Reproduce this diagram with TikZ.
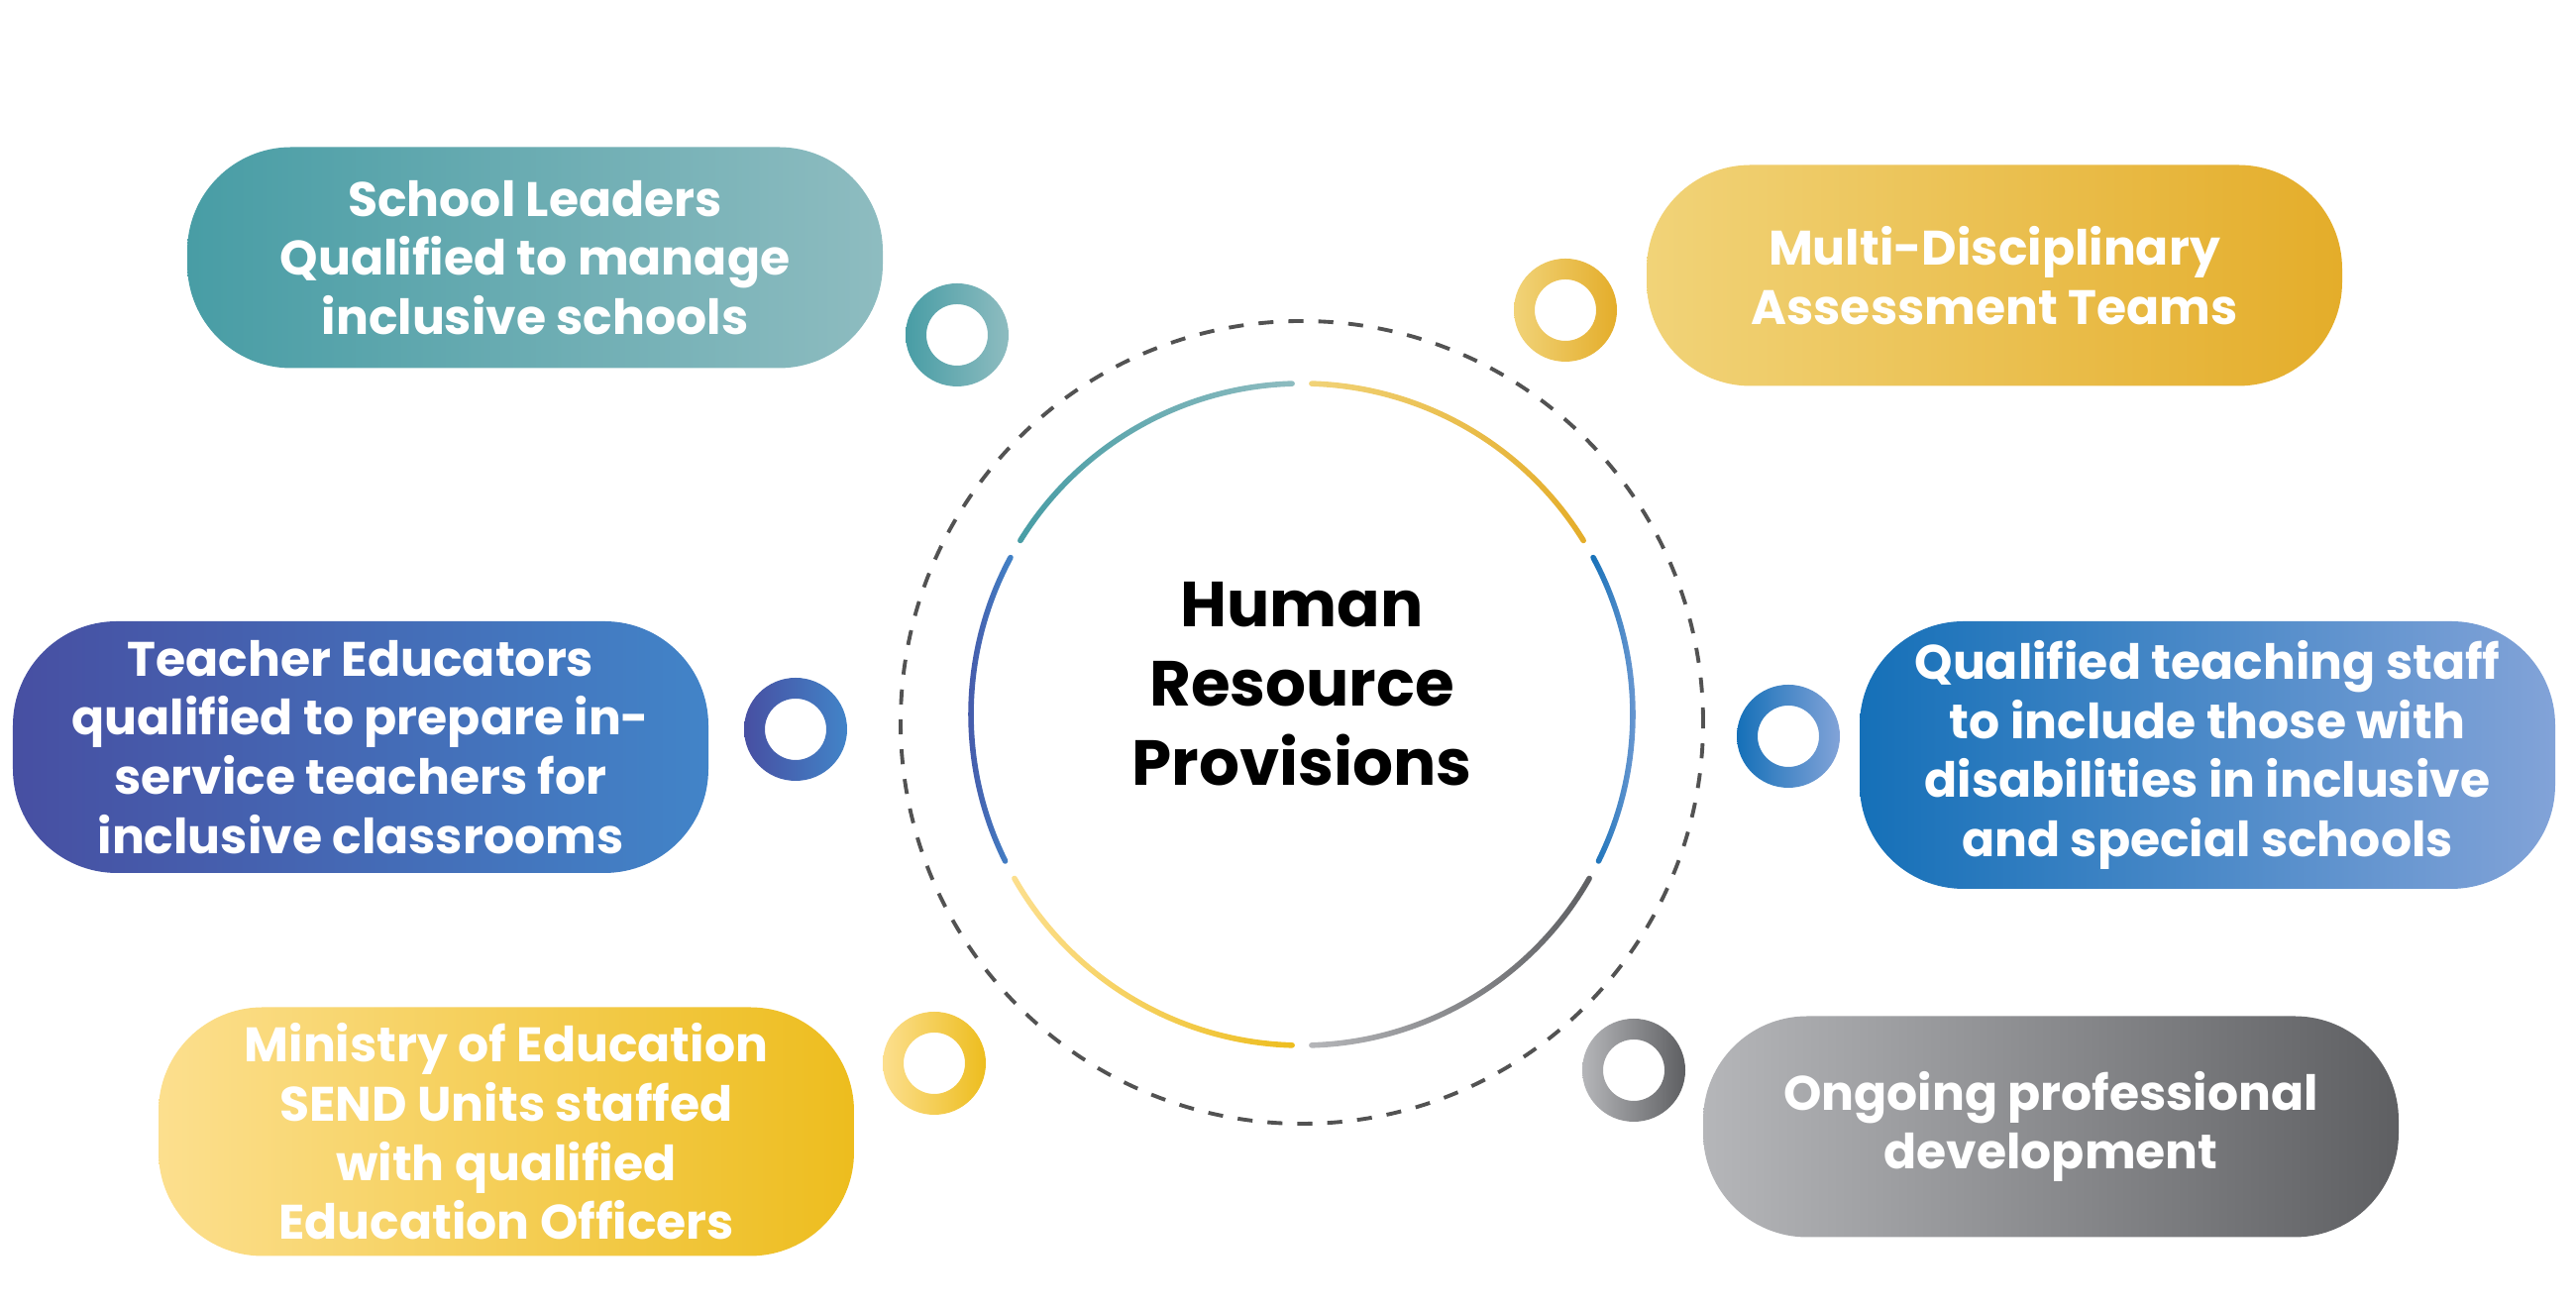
\documentclass[tikz,border=0pt]{standalone}
\usepackage{fontspec}
\setmainfont{Poppins}
\definecolor{tealL}{HTML}{489DA5}
\definecolor{tealR}{HTML}{8EBCC0}
\definecolor{goldL}{HTML}{F1D378}
\definecolor{goldR}{HTML}{E4AD2A}
\definecolor{indigoL}{HTML}{474FA2}
\definecolor{indigoR}{HTML}{4284C8}
\definecolor{blueL}{HTML}{1570B8}
\definecolor{blueR}{HTML}{82A3D8}
\definecolor{sunL}{HTML}{FCDF8E}
\definecolor{sunR}{HTML}{EDBD1E}
\definecolor{greyL}{HTML}{B5B6B9}
\definecolor{greyR}{HTML}{5E5F62}
\tikzset{
    pill/.style={rectangle, rounded corners=1.05cm, minimum width=7.02cm,
        inner sep=0pt, align=center, text=white,
        font=\bfseries\fontsize{13.9}{17}\selectfont},
    dashring/.style={draw=black!68, line width=1.1pt, dash pattern=on 4.3pt off 4.3pt},
}
% ring at a coordinate, shaded left to right
\newcommand{\ringat}[3]{\shade[even odd rule, left color=#2, right color=#3] (#1) circle (0.52) (#1) circle (0.31);}
% one coloured piece of the hub circle, round ends
\newcommand{\hubarc}[4]{\shade[left color=#3, right color=#4]
    ([shift={(hubc)}]#1:3.368) arc[start angle=#1, end angle=#2, radius=3.368]
    arc[start angle=#2, end angle=#2+180, radius=0.028]
    arc[start angle=#2, end angle=#1, radius=3.312]
    arc[start angle=#1+180, end angle=#1+360, radius=0.028] -- cycle;}

\begin{document}
\begin{tikzpicture}
\useasboundingbox (0,0) rectangle (26,13.23);

\coordinate (hubc) at (13.14,6.02);
\coordinate (dashc) at (13.14,5.94);

% hub
\draw[dashring] (dashc) circle (4.05);
\hubarc{31.7}{88.3}{goldL}{goldR}
\hubarc{91.7}{148.3}{tealL}{tealR}
\hubarc{151.7}{206.3}{indigoL}{indigoR}
\hubarc{209.7}{268.3}{sunL}{sunR}
\hubarc{271.7}{330.3}{greyL}{greyR}
\hubarc{-26.3}{28.3}{blueL}{blueR}
\node[align=center, font=\bfseries\fontsize{18.3}{22.7}\selectfont] (hub) at (13.14,6.33) {Human\\Resource\\Provisions};

% left side
\node[pill, minimum height=2.23cm, left color=tealL, right color=tealR] (leaders) at (5.40,10.63) {School Leaders\\Qualified to manage\\inclusive schools};
\node[pill, minimum height=2.54cm, left color=indigoL, right color=indigoR] (educators) at (3.64,5.69) {Teacher Educators\\qualified to prepare in-\\service teachers for\\inclusive classrooms};
\node[pill, minimum height=2.51cm, left color=sunL, right color=sunR] (ministry) at (5.11,1.81) {Ministry of Education\\SEND Units staffed\\with qualified\\Education Officers};

% right side
\node[pill, minimum height=2.23cm, left color=goldL, right color=goldR] (teams) at (20.13,10.45) {Multi-Disciplinary\\Assessment Teams};
\node[pill, minimum height=2.70cm, left color=blueL, right color=blueR] (staff) at (22.28,5.61) {Qualified teaching staff\\to include those with\\disabilities in inclusive\\and special schools};
\node[pill, minimum height=2.23cm, left color=greyL, right color=greyR] (ongoing) at (20.70,1.86) {Ongoing professional\\development};

% rings
\coordinate (r1) at (9.66,9.85);
\coordinate (r2) at (15.80,10.10);
\coordinate (r3) at (8.03,5.87);
\coordinate (r4) at (18.05,5.80);
\coordinate (r5) at (9.43,2.50);
\coordinate (r6) at (16.49,2.43);
\ringat{r1}{tealL}{tealR}
\ringat{r2}{goldL}{goldR}
\ringat{r3}{indigoL}{indigoR}
\ringat{r4}{blueL}{blueR}
\ringat{r5}{sunL}{sunR}
\ringat{r6}{greyL}{greyR}

\end{tikzpicture}
\end{document}
